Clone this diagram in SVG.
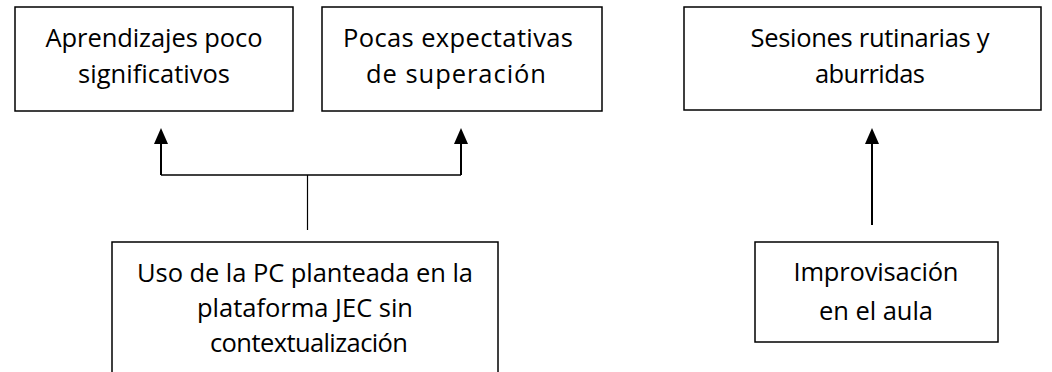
<svg xmlns="http://www.w3.org/2000/svg" width="1052" height="372" viewBox="0 0 1052 372">
<style>
.box{fill:#fff;stroke:#000;stroke-width:1.5}
.t{font-family:"Open Sans","Liberation Sans",Arial,sans-serif;font-size:25.5px;fill:#000;text-anchor:middle}
.ln{stroke:#000;fill:none}
.head{fill:#000}
</style>
<rect width="1052" height="372" fill="#fff"/>
<g id="connectors">
<line class="ln" x1="161" y1="175" x2="461" y2="175" stroke-width="1.5"/>
<line class="ln" x1="307.5" y1="175" x2="307.5" y2="230" stroke-width="1.2"/>
<line class="ln" x1="161" y1="175" x2="161" y2="140" stroke-width="2"/>
<polygon class="head" points="161,128 154,144 168,144"/>
<line class="ln" x1="461" y1="175" x2="461" y2="140" stroke-width="2"/>
<polygon class="head" points="461,128 454,144 468,144"/>
<line class="ln" x1="872" y1="225" x2="872" y2="140" stroke-width="2"/>
<polygon class="head" points="872,128 865,144 879,144"/>
</g>
<g id="n1">
<rect class="box" x="15" y="7" width="278" height="104"/>
<text class="t" x="154" y="47" textLength="217">Aprendizajes poco</text>
<text class="t" x="154" y="83" textLength="152">significativos</text>
</g>
<g id="n2">
<rect class="box" x="322" y="7" width="280" height="104"/>
<text class="t" x="458" y="47" textLength="230">Pocas expectativas</text>
<text class="t" x="456" y="83" textLength="180">de superación</text>
</g>
<g id="n3">
<rect class="box" x="684" y="7" width="357" height="103"/>
<text class="t" x="870" y="47" textLength="239">Sesiones rutinarias y</text>
<text class="t" x="870" y="83" textLength="110">aburridas</text>
</g>
<g id="n4">
<rect class="box" x="112" y="242" width="386" height="140"/>
<text class="t" x="305" y="282" textLength="336">Uso de la PC planteada en la</text>
<text class="t" x="305" y="317" textLength="216">plataforma JEC sin</text>
<text class="t" x="309" y="352" textLength="198">contextualización</text>
</g>
<g id="n5">
<rect class="box" x="755" y="242" width="243" height="100"/>
<text class="t" x="876" y="281" textLength="165">Improvisación</text>
<text class="t" x="876" y="320" textLength="114">en el aula</text>
</g>
</svg>
